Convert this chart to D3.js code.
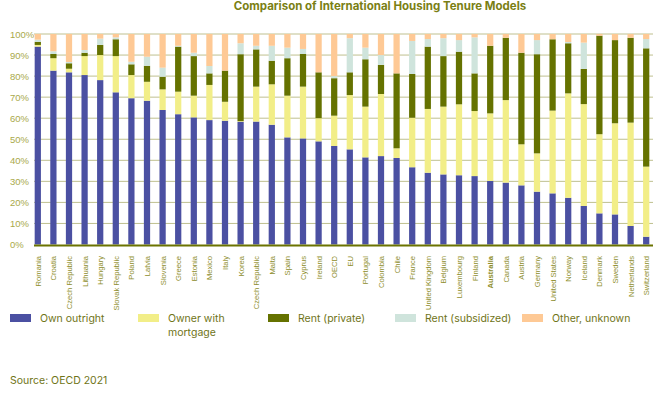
<!DOCTYPE html>
<html>
<head>
<meta charset="utf-8">
<script src="https://cdn.jsdelivr.net/npm/d3@7"></script>
<style>
  body { margin: 0; background: #fff; }
  svg { display: block; }
</style>
</head>
<body>
<div id="chart"></div>
<script>
// data (percent of households)
const countries = ["Romania", "Croatia", "Czech Republic", "Lithuania", "Hungary", "Slovak Republic",
  "Poland", "Latvia", "Slovenia", "Greece", "Estonia", "Mexico", "Italy", "Korea", "Czech Republic ",
  "Malta", "Spain", "Cyprus", "Ireland", "OECD", "EU", "Portugal", "Colombia", "Chile", "France",
  "United Kingdom", "Belgium", "Luxembourg", "Finland", "Australia", "Canada", "Austria", "Germany",
  "United States", "Norway", "Iceland", "Denmark", "Sweden", "Netherlands", "Switzerland"];

const ownOutright = [94, 82.6, 81.8, 80.5, 78.1, 72.3, 69.5, 68.3, 63.9, 61.9, 60.4, 59.1, 58.8, 58.3, 58.4,
  56.9, 50.9, 50.4, 49, 46.8, 45.2, 41.4, 42, 41.1, 36.7, 34.1, 33.3, 32.9, 32.5, 30.2,
  29.4, 28.1, 25.1, 24.3, 22.2, 18.3, 14.8, 14.3, 8.8, 3.7];
const ownerMortgage = [0.8, 5.9, 1.7, 9, 11.9, 17.2, 11, 9, 9.8, 10.7, 10.3, 16.7, 9, 0.3, 16.6,
  19.2, 19.8, 24.6, 11, 14.4, 25.8, 24.1, 29.5, 4.6, 23.5, 30.3, 32.2, 33.7, 30.9, 32.1,
  39.2, 19.5, 18.2, 39.3, 49.6, 48.4, 37.6, 43.3, 49.1, 33.3];
const rentPrivate = [1.5, 2, 2.6, 1.6, 4.8, 8, 5.1, 7.6, 6, 21.4, 18.8, 5.5, 14.8, 31.8, 17.7,
  11.2, 17.8, 15.5, 21.8, 17.8, 10.8, 22.5, 13.8, 35.6, 20.8, 29.6, 24, 25, 17.9, 32.1,
  29.6, 43.5, 47.1, 33.9, 23.8, 16.7, 46.8, 39.5, 40.3, 56.2];
const rentSubsidized = [1, 1.3, 0.6, 1.3, 3, 0.9, 1.2, 4.3, 4.3, 0.4, 1.6, 3.5, 0, 5.2, 1.7,
  7.1, 5, 2.4, 0, 1, 16.2, 5.5, 4.7, 0, 15.7, 3.6, 8.5, 5.5, 17.1, 0,
  0, 0, 6.7, 0, 0.6, 12.5, 0, 0, 0, 4.4];
const otherUnknown = countries.map((c, i) =>
  Math.max(0, 100 - ownOutright[i] - ownerMortgage[i] - rentPrivate[i] - rentSubsidized[i]));

const seriesNames = ["Own outright", "Owner with mortgage", "Rent (private)", "Rent (subsidized)", "Other, unknown"];
const seriesColors = ["#4b50a2", "#f2ee88", "#657200", "#cfe4dc", "#fec995"];
const yTicks = [0, 10, 20, 30, 40, 50, 60, 70, 80, 90, 100];

const width = 660, height = 393;

const rows = countries.map((c, i) => ({
  country: c,
  "Own outright": ownOutright[i],
  "Owner with mortgage": ownerMortgage[i],
  "Rent (private)": rentPrivate[i],
  "Rent (subsidized)": rentSubsidized[i],
  "Other, unknown": otherUnknown[i]
}));

const svg = d3.select("#chart").append("svg")
  .attr("width", width)
  .attr("height", height);

const x = d3.scaleBand()
  .domain(countries)
  .range([30, 654])
  .paddingInner(0.6)
  .paddingOuter(0.3);

const y = d3.scaleLinear()
  .domain([0, 100])
  .range([244.5, 34]);

const color = d3.scaleOrdinal().domain(seriesNames).range(seriesColors);

// title
svg.append("text")
  .attr("x", 380)
  .attr("y", 10)
  .attr("text-anchor", "middle")
  .style("font-family", "Inter, 'Liberation Sans', sans-serif")
  .style("font-weight", "700")
  .style("font-size", "11.5px")
  .style("fill", "#7a7f14")
  .text("Comparison of International Housing Tenure Models");

// gridlines
svg.append("g")
  .selectAll("line")
  .data(yTicks.filter(d => d > 0))
  .enter().append("line")
  .attr("x1", 34)
  .attr("x2", 653)
  .attr("y1", d => y(d))
  .attr("y2", d => y(d))
  .style("stroke", "#bfc08f")
  .style("stroke-width", 1);

// y labels (left aligned)
svg.append("g")
  .selectAll("text")
  .data(yTicks)
  .enter().append("text")
  .attr("x", 10)
  .attr("y", d => y(d) + 3.5)
  .style("font-family", "'Liberation Sans', Arial, sans-serif")
  .style("font-size", "9.5px")
  .style("fill", "#a9a94a")
  .text(d => d + "%");

// stacked bars
const stack = d3.stack().keys(seriesNames);
const layers = stack(rows);

svg.append("g")
  .selectAll("g")
  .data(layers)
  .enter().append("g")
  .attr("fill", d => color(d.key))
  .selectAll("rect")
  .data(d => d)
  .enter().append("rect")
  .attr("x", d => x(d.data.country))
  .attr("width", x.bandwidth())
  .attr("y", d => y(d[1]))
  .attr("height", d => y(d[0]) - y(d[1]));

// baseline
svg.append("line")
  .attr("x1", 34)
  .attr("x2", 653)
  .attr("y1", y(0) + 1)
  .attr("y2", y(0) + 1)
  .style("stroke", "#6b7300")
  .style("stroke-width", 2);

// country labels
svg.append("g")
  .selectAll("text")
  .data(countries)
  .enter().append("text")
  .attr("transform", d => "translate(" + (x(d) + x.bandwidth() / 2 + 3) + "," + 256 + ") rotate(-90)")
  .attr("text-anchor", "end")
  .style("font-family", "'Liberation Sans', Arial, sans-serif")
  .style("font-size", "7.6px")
  .style("font-weight", d => d === "Australia" ? "700" : "400")
  .style("fill", "#8e8e2c")
  .text(d => d.trim());

// legend
const legendX = [10, 138, 268, 395, 522];
const legend = svg.append("g")
  .selectAll("g")
  .data(seriesNames)
  .enter().append("g")
  .attr("transform", (d, i) => "translate(" + legendX[i] + ",314)");

legend.append("rect")
  .attr("width", 21)
  .attr("height", 8)
  .attr("fill", d => color(d));

legend.append("text")
  .attr("x", 30)
  .attr("y", 8)
  .style("font-family", "Inter, 'DejaVu Sans', sans-serif")
  .style("font-size", "10.5px")
  .style("fill", "#6f7418")
  .each(function(d) {
    const t = d3.select(this);
    if (d === "Owner with mortgage") {
      t.append("tspan").attr("x", 30).attr("dy", 0).text("Owner with");
      t.append("tspan").attr("x", 30).attr("dy", 14).text("mortgage");
    } else {
      t.text(d);
    }
  });

// source
svg.append("text")
  .attr("x", 10)
  .attr("y", 384)
  .style("font-family", "Inter, 'DejaVu Sans', sans-serif")
  .style("font-size", "10.5px")
  .style("fill", "#6f7418")
  .text("Source: OECD 2021");
</script>
</body>
</html>
